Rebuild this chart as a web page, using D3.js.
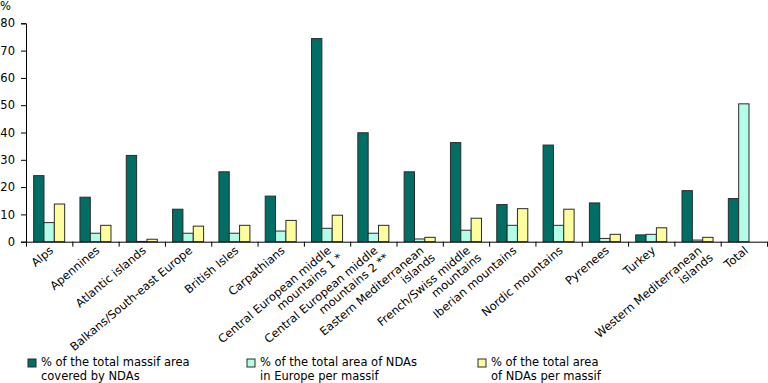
<!DOCTYPE html>
<html>
<head>
<meta charset="utf-8">
<script src="https://cdn.jsdelivr.net/npm/d3@7"></script>
<style>
  body { margin: 0; background: #fff; }
  text { font-family: "DejaVu Sans", Verdana, sans-serif; }
</style>
</head>
<body>
<div class="container"></div>
<script>
// massif names (split into label lines)
const massifs = [
    ['Alps'], ['Apennines'], ['Atlantic islands'], ['Balkans/South-east Europe'],
    ['British Isles'], ['Carpathians'],
    ['Central European middle', 'mountains 1 *'],
    ['Central European middle', 'mountains 2 **'],
    ['Eastern Mediterranean', 'islands'],
    ['French/Swiss middle', 'mountains'],
    ['Iberian mountains'], ['Nordic mountains'], ['Pyrenees'], ['Turkey'],
    ['Western Mediterranean', 'islands'], ['Total']
];
const massifArea = [24.2, 16.3, 31.6, 11.9, 25.6, 16.7, 74.4, 39.9, 25.6, 36.3, 13.6, 35.4, 14.2, 2.5, 18.7, 15.8];
const europeShare = [7.0, 3.1, 0.1, 3.1, 3.1, 3.9, 4.9, 3.1, 1.0, 4.2, 6.0, 6.0, 1.2, 2.7, 0.6, 50.5];
const massifShare = [13.8, 6.0, 0.9, 5.7, 6.0, 7.8, 9.7, 6.0, 1.6, 8.6, 12.1, 11.9, 2.7, 5.1, 1.6, null];
const seriesNames = [
    ['% of the total massif area', 'covered by NDAs'],
    ['% of the total area of NDAs', 'in Europe per massif'],
    ['% of the total area', 'of NDAs per massif']
];
const colors = ['#006e64', '#b3fde8', '#fdfd9e'];
const yTicks = [0, 10, 20, 30, 40, 50, 60, 70, 80];

const WIDTH = 768;
const HEIGHT = 383;
const X0 = 26, X1 = 767, Y0 = 241.7, Y1 = 23.3;
const FONT = 11.5;

var svg = d3.select('.container').append('svg')
    .attr('width', WIDTH)
    .attr('height', HEIGHT);

var idx = d3.range(massifs.length);
var series = [massifArea, europeShare, massifShare];

var xScale = d3.scaleBand()
    .domain(idx)
    .range([X0, X1])
    .paddingInner(0.33)
    .paddingOuter(0.165);

var xInner = d3.scaleBand()
    .domain([0, 1, 2])
    .range([0, xScale.bandwidth()]);

var yScale = d3.scaleLinear()
    .domain([0, 80])
    .range([Y0, Y1]);

// bars
var groups = svg.append('g').selectAll('g').data(idx)
    .enter().append('g')
    .attr('transform', i => `translate(${xScale(i)},0)`);

groups.selectAll('rect')
    .data(i => series.map((s, k) => ({k: k, v: s[i]})).filter(d => d.v != null))
    .enter().append('rect')
    .attr('x', d => xInner(d.k))
    .attr('y', d => yScale(d.v))
    .attr('width', xInner.bandwidth())
    .attr('height', d => Y0 - yScale(d.v))
    .attr('fill', d => colors[d.k])
    .attr('stroke', '#2b2b2b')
    .attr('stroke-width', 1);

// y axis
var yAxis = d3.axisLeft(yScale).tickValues(yTicks).tickSize(5).tickPadding(6);
svg.append('g')
    .attr('transform', `translate(${X0},0)`)
    .call(yAxis)
    .call(g => g.selectAll('text').attr('font-size', FONT).attr('fill', '#000'))
    .call(g => g.selectAll('.domain, line').attr('stroke', '#000'));

svg.append('text')
    .attr('x', 0).attr('y', 10)
    .attr('font-size', FONT)
    .text('%');

// x axis: line plus ticks at band boundaries
var step = xScale.step();
var xAxis = d3.axisBottom(d3.scaleLinear().domain([0, massifs.length]).range([X0, X0 + step * massifs.length]))
    .ticks(massifs.length)
    .tickSize(5)
    .tickFormat('');
svg.append('g')
    .attr('transform', `translate(0,${Y0})`)
    .call(xAxis)
    .call(g => g.selectAll('.domain, line').attr('stroke', '#000'))
    .call(g => g.select('.domain').attr('d', `M${X0},0.5H${WIDTH}`));

// rotated category labels, lines right-aligned
var labels = svg.append('g').selectAll('text').data(idx)
    .enter().append('text')
    .attr('font-size', FONT)
    .attr('text-anchor', 'end')
    .attr('transform', i => {
        var cx = xScale(i) + xScale.bandwidth() / 2;
        return `translate(${cx + 5},${Y0 + 10}) rotate(-40)`;
    });

labels.selectAll('tspan').data(i => massifs[i])
    .enter().append('tspan')
    .attr('x', (d, j) => j === 0 ? 0 : 4)
    .attr('dy', (d, j) => j === 0 ? 0 : '1.1em')
    .text(d => d);

// legend
var legendX = [28, 247, 478];
var legend = svg.append('g').selectAll('g').data(seriesNames)
    .enter().append('g')
    .attr('transform', (d, k) => `translate(${legendX[k]},359)`);

legend.append('rect')
    .attr('width', 8).attr('height', 8)
    .attr('fill', (d, k) => colors[k])
    .attr('stroke', '#2b2b2b');

legend.append('text')
    .attr('font-size', FONT)
    .attr('y', 7)
    .selectAll('tspan').data(d => d)
    .enter().append('tspan')
    .attr('x', 13)
    .attr('dy', (d, j) => j === 0 ? 0 : 14)
    .text(d => d);
</script>
</body>
</html>
